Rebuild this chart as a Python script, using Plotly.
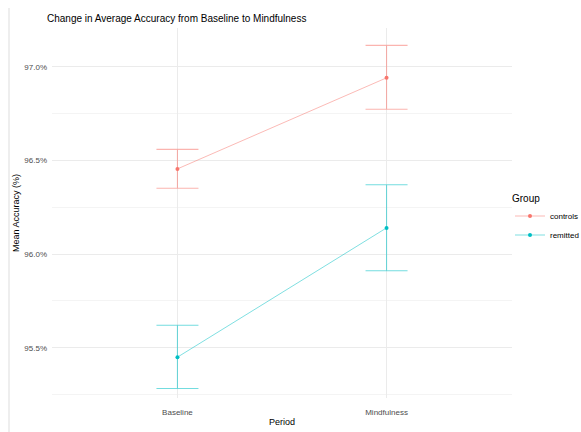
import plotly.graph_objects as go

periods = ["Baseline", "Mindfulness"]
groups = ["controls", "remitted"]

# Mean accuracy (%) per group and period, with lower/upper error bounds
mean_controls = [96.455, 96.941]
lower_controls = [96.352, 96.773]
upper_controls = [96.559, 97.114]

mean_remitted = [95.450, 96.140]
lower_remitted = [95.283, 95.911]
upper_remitted = [95.620, 96.370]

y_major = [95.5, 96.0, 96.5, 97.0]
y_minor = [95.25, 95.75, 96.25, 96.75]

series = {
    "controls": (mean_controls, lower_controls, upper_controls, "248,118,109"),
    "remitted": (mean_remitted, lower_remitted, upper_remitted, "0,191,196"),
}

FONT = "Liberation Sans, Arial, sans-serif"

fig = go.Figure()
for name in groups:
    mean, lo, hi, rgb = series[name]
    fig.add_trace(go.Scatter(
        x=periods, y=mean, name=name, mode="lines+markers",
        line=dict(color=f"rgba({rgb},0.5)", width=1),
        marker=dict(color=f"rgb({rgb})", size=4),
        error_y=dict(
            type="data", symmetric=False,
            array=[h - m for h, m in zip(hi, mean)],
            arrayminus=[m - l for m, l in zip(mean, lo)],
            color=f"rgba({rgb},0.55)", thickness=1.1, width=21,
        ),
    ))

fig.update_layout(
    width=581, height=432,
    margin=dict(l=52, r=69, t=28, b=34, autoexpand=False),
    paper_bgcolor="white", plot_bgcolor="white",
    font=dict(family=FONT, color="#4D4D4D", size=8),
    title=dict(text="Change in Average Accuracy from Baseline to Mindfulness",
               x=47 / 581, xanchor="left", y=1 - 18 / 432, yanchor="middle",
               font=dict(size=10, color="black", family=FONT)),
    xaxis=dict(
        type="category", range=[-0.6, 1.6],
        showgrid=True, gridcolor="#EBEBEB", gridwidth=1,
        zeroline=False, showline=False, ticks="",
        ticklabelstandoff=8,
        tickfont=dict(size=8, color="#4D4D4D"),
        title=dict(text="Period", font=dict(size=9, color="black"), standoff=2),
    ),
    yaxis=dict(
        range=[95.232, 97.207],
        tickvals=y_major, ticktext=[f"{v:.1f}%" for v in y_major],
        showgrid=True, gridcolor="#EBEBEB", gridwidth=1,
        minor=dict(tickvals=y_minor, showgrid=True, gridcolor="#F4F4F4", gridwidth=1, ticks=""),
        zeroline=False, showline=False, ticks="",
        ticklabelstandoff=4,
        tickfont=dict(size=8, color="#4D4D4D"),
        title=dict(text="Mean Accuracy (%)", font=dict(size=9, color="black"), standoff=3),
    ),
    legend=dict(
        title=dict(text="Group", font=dict(size=10, color="black")),
        x=(510 - 52) / 460, xanchor="left", y=1 - (219 - 28) / 370, yanchor="middle",
        font=dict(size=8, color="black"), bgcolor="rgba(0,0,0,0)",
        itemwidth=30,
    ),
    showlegend=True,
)

# thin border at the left edge of the canvas
fig.add_shape(type="line", xref="paper", yref="paper",
              x0=(9 - 52) / 460, x1=(9 - 52) / 460, y0=-34 / 370, y1=1 + 20 / 370,
              line=dict(color="#DDDDDD", width=1))

fig.write_html("out.html")
